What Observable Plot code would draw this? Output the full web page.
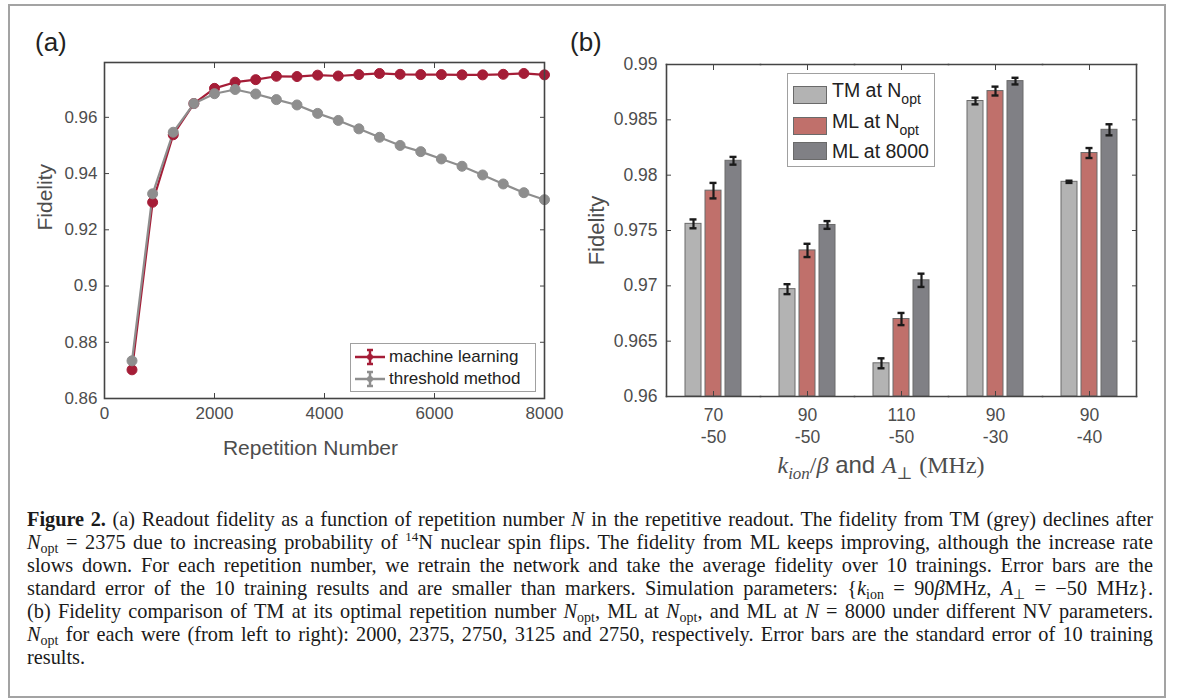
<!DOCTYPE html>
<html><head><meta charset="utf-8">
<script src="https://cdn.jsdelivr.net/npm/d3@7"></script>
<script src="https://cdn.jsdelivr.net/npm/@observablehq/plot@0.6"></script>
<style>
body{margin:0;background:#fff;}
#fig{position:relative;width:1182px;height:700px;overflow:hidden;font-family:"Liberation Sans",Arial,sans-serif;color:#4d4d4d;}
#outer{position:absolute;left:8px;top:4px;width:1158px;height:694px;border:2px solid #a3a3a3;box-sizing:border-box;}
.panel{position:absolute;top:0;}
.plabel{position:absolute;font-size:26px;color:#222;line-height:1;}
.legend{position:absolute;background:#fff;border:1.5px solid #a0a0a0;box-sizing:border-box;color:#222;}
.lrow{position:absolute;left:0;display:flex;align-items:center;white-space:nowrap;}
#xlabR{position:absolute;left:700px;width:362px;top:451px;text-align:center;font-size:24px;color:#4d4d4d;white-space:nowrap;}
.mi{font-family:"Liberation Serif","DejaVu Serif",serif;font-style:italic;}
.mr{font-family:"Liberation Serif","DejaVu Serif",serif;}
#caption{position:absolute;left:27px;top:508px;width:1126px;font-family:"Liberation Serif","Times New Roman",serif;font-size:20.3px;line-height:23px;color:#1a1a1a;}
#caption .ln{text-align:justify;text-align-last:justify;white-space:nowrap;}
#caption .last{text-align:left;text-align-last:left;}
#caption sub{font-size:14px;vertical-align:-4px;line-height:0;}
#caption sup{font-size:13px;vertical-align:8px;line-height:0;}
</style></head>
<body>
<div id="fig">
  <div id="outer"></div>
  <div id="left" class="panel" style="left:0px"></div>
  <div id="right" class="panel" style="left:570px"></div>
  <div class="plabel" style="left:35px;top:29px">(a)</div>
  <div class="plabel" style="left:570px;top:29px">(b)</div>
  <div id="legL" class="legend" style="left:350px;top:343px;width:186px;height:49px"></div>
  <div id="legR" class="legend" style="left:787px;top:73px;width:148px;height:94px"></div>
  <div id="xlabR"><span class="mi">k</span><sub class="mi" style="font-size:17px">ion</sub><span class="mr">/</span><span class="mi">β</span> and <span class="mi">A</span><sub class="mr" style="font-size:17px">⊥</sub> <span class="mr">(MHz)</span></div>
  <div id="caption">
    <div class="ln"><b>Figure 2.</b> (a) Readout fidelity as a function of repetition number <i>N</i> in the repetitive readout. The fidelity from TM (grey) declines after</div>
    <div class="ln"><i>N</i><sub>opt</sub> = 2375 due to increasing probability of <sup>14</sup>N nuclear spin flips. The fidelity from ML keeps improving, although the increase rate</div>
    <div class="ln">slows down. For each repetition number, we retrain the network and take the average fidelity over 10 trainings. Error bars are the</div>
    <div class="ln">standard error of the 10 training results and are smaller than markers. Simulation parameters: {<i>k</i><sub>ion</sub> = 90<i>β</i>MHz, <i>A</i><sub>⊥</sub> = −50 MHz}.</div>
    <div class="ln">(b) Fidelity comparison of TM at its optimal repetition number <i>N</i><sub>opt</sub>, ML at <i>N</i><sub>opt</sub>, and ML at <i>N</i> = 8000 under different NV parameters.</div>
    <div class="ln"><i>N</i><sub>opt</sub> for each were (from left to right): 2000, 2375, 2750, 3125 and 2750, respectively. Error bars are the standard error of 10 training</div>
    <div class="ln last">results.</div>
  </div>
</div>
<script>
// ---------- Panel (a) data ----------
const repetitions = [500, 875, 1250, 1625, 2000, 2375, 2750, 3125, 3500, 3875, 4250, 4625, 5000, 5375, 5750, 6125, 6500, 6875, 7250, 7625, 8000];
const fidelityML = [0.8702, 0.9298, 0.9538, 0.9649, 0.9703, 0.9725, 0.9734, 0.9746, 0.9745, 0.9750, 0.9747, 0.9752, 0.9756, 0.9753, 0.9752, 0.9752, 0.9751, 0.9751, 0.9753, 0.9756, 0.9751];
const fidelityTM = [0.8734, 0.9328, 0.9547, 0.9649, 0.9684, 0.9699, 0.9683, 0.9663, 0.9644, 0.9614, 0.9589, 0.9559, 0.9529, 0.9500, 0.9478, 0.9452, 0.9426, 0.9395, 0.9363, 0.9332, 0.9307];
const lineSeries = ["machine learning", "threshold method"];
const xTicksA = [0, 2000, 4000, 6000, 8000];
const yTicksA = [0.86, 0.88, 0.9, 0.92, 0.94, 0.96];

// ---------- Panel (b) data ----------
const kIon = [70, 90, 110, 90, 90];
const aPerp = [-50, -50, -50, -30, -40];
const barSeries = ["TM at Nopt", "ML at Nopt", "ML at 8000"];
const tmAtNopt = [0.9756, 0.9697, 0.9630, 0.9867, 0.9794];
const tmAtNoptErr = [0.0004, 0.00045, 0.00045, 0.0003, 0.0001];
const mlAtNopt = [0.9786, 0.9732, 0.9670, 0.9876, 0.9820];
const mlAtNoptErr = [0.0007, 0.0006, 0.00055, 0.0004, 0.00045];
const mlAt8000 = [0.9813, 0.9755, 0.9705, 0.9885, 0.9841];
const mlAt8000Err = [0.00035, 0.00035, 0.0006, 0.0003, 0.0005];
const yTicksB = [0.96, 0.965, 0.97, 0.975, 0.98, 0.985, 0.99];

// ---------- styles ----------
const axisColor = "#444444";
const textColor = "#4d4d4d";
const lineColors = ["#a51d37", "#8e8e8e"];
const barColors = ["#b3b3b3", "#c0706b", "#808085"];
const barStroke = "#6a6a6a";
const fontFam = "'Liberation Sans', Arial, sans-serif";

// ---------- Panel (a) ----------
const lineData = repetitions.flatMap((n, i) => [
  {N: n, F: fidelityML[i], s: lineSeries[0]},
  {N: n, F: fidelityTM[i], s: lineSeries[1]}
]);
const fmt = d => String(+d.toFixed(3));

const plotA = Plot.plot({
  width: 570, height: 480,
  marginLeft: 104, marginRight: 26, marginTop: 62, marginBottom: 82,
  style: {fontFamily: fontFam, fontSize: "17px", color: textColor, background: "transparent", overflow: "visible"},
  x: {domain: [0, 8000]},
  y: {domain: [0.86, 0.9795]},
  color: {domain: lineSeries, range: lineColors},
  marks: [
    Plot.line(lineData, {x: "N", y: "F", stroke: "s", strokeWidth: 2.2}),
    Plot.dot(lineData, {x: "N", y: "F", fill: "s", stroke: "s", r: 5, strokeWidth: 1}),
    Plot.frame({stroke: axisColor, strokeWidth: 1.6}),
    Plot.axisX(xTicksA, {anchor: "bottom", tickSize: -5, tickPadding: 13, tickFormat: d => String(d), label: null, stroke: axisColor}),
    Plot.axisX(xTicksA, {anchor: "top", tickSize: -5, text: null, label: null, stroke: axisColor}),
    Plot.axisY(yTicksA, {anchor: "left", tickSize: -5, tickPadding: 12, tickFormat: fmt, label: null, stroke: axisColor}),
    Plot.axisY(yTicksA, {anchor: "right", tickSize: -5, text: null, label: null, stroke: axisColor}),
    Plot.text(["Repetition Number"], {text: d => d, frameAnchor: "bottom", dy: 56, dx: -14, fontSize: 21, fill: textColor}),
    Plot.text(["Fidelity"], {text: d => d, frameAnchor: "left", rotate: -90, dx: -59, fontSize: 21, fill: textColor})
  ]
});
document.getElementById("left").appendChild(plotA);

// ---------- Panel (b) ----------
const groups = kIon.map((k, i) => `${k}\n${aPerp[i]}`);
const barData = groups.flatMap((g, i) => [
  {g, s: barSeries[0], v: tmAtNopt[i], e: tmAtNoptErr[i]},
  {g, s: barSeries[1], v: mlAtNopt[i], e: mlAtNoptErr[i]},
  {g, s: barSeries[2], v: mlAt8000[i], e: mlAt8000Err[i]}
]);
const yBase = yTicksB[0];

const plotB = Plot.plot({
  width: 600, height: 480,
  marginLeft: 94, marginRight: 33, marginTop: 64, marginBottom: 84,
  style: {fontFamily: fontFam, fontSize: "17.5px", color: textColor, background: "transparent", overflow: "visible"},
  fx: {domain: groups, padding: 0, label: null},
  x: {domain: barSeries, paddingInner: 0.19, paddingOuter: 0.85, axis: null},
  y: {domain: [yBase, yTicksB[yTicksB.length - 1]]},
  color: {domain: barSeries, range: barColors},
  marks: [
    Plot.barY(barData, {fx: "g", x: "s", y1: yBase, y2: "v", fill: "s", stroke: barStroke, strokeWidth: 1}),
    Plot.ruleX(barData, {fx: "g", x: "s", y1: d => d.v - d.e, y2: d => d.v + d.e, stroke: "#1a1a1a", strokeWidth: 2.2}),
    Plot.tickY(barData, {fx: "g", x: "s", y: d => d.v + d.e, insetLeft: 4.5, insetRight: 4.5, stroke: "#1a1a1a", strokeWidth: 2.4}),
    Plot.tickY(barData, {fx: "g", x: "s", y: d => d.v - d.e, insetLeft: 4.5, insetRight: 4.5, stroke: "#1a1a1a", strokeWidth: 2.4}),
    Plot.frame({anchor: "top", stroke: axisColor, strokeWidth: 1.6}),
    Plot.frame({anchor: "bottom", stroke: axisColor, strokeWidth: 1.6}),
    Plot.frame({anchor: "left", facetAnchor: "left", stroke: axisColor, strokeWidth: 1.6}),
    Plot.frame({anchor: "right", facetAnchor: "right", stroke: axisColor, strokeWidth: 1.6}),
    Plot.axisY(yTicksB, {anchor: "left", tickSize: -5, tickPadding: 14, tickFormat: fmt, label: null, stroke: axisColor}),
    Plot.axisY(yTicksB, {anchor: "right", tickSize: -5, text: null, label: null, stroke: axisColor}),
    Plot.axisY({anchor: "left", tickSize: 0, text: null, label: "Fidelity", labelAnchor: "center", labelArrow: "none", labelOffset: 78, fontSize: 22, fill: textColor}),
    Plot.axisFx({anchor: "bottom", tickSize: -5, tickPadding: 14, lineHeight: 1.25, label: null, stroke: axisColor}),
    Plot.axisFx({anchor: "top", tickSize: -5, text: null, label: null, stroke: axisColor})
  ]
});
document.getElementById("right").appendChild(plotB);

// ---------- Legends ----------
const legL = document.getElementById("legL");
lineSeries.forEach((name, i) => {
  const row = document.createElement("div");
  row.className = "lrow";
  row.style.top = (i === 0 ? 3 : 25) + "px";
  row.style.left = "3px";
  row.innerHTML = `<svg width="32" height="20" style="margin-right:3px">
      <line x1="1" x2="31" y1="10" y2="10" stroke="${lineColors[i]}" stroke-width="2.5"/>
      <line x1="16" x2="16" y1="3" y2="17" stroke="${lineColors[i]}" stroke-width="2.5"/>
      <line x1="13" x2="19" y1="3" y2="3" stroke="${lineColors[i]}" stroke-width="2.5"/>
      <line x1="13" x2="19" y1="17" y2="17" stroke="${lineColors[i]}" stroke-width="2.5"/>
      <circle cx="16" cy="10" r="3" fill="${lineColors[i]}"/></svg><span style="font-size:17px">${name}</span>`;
  legL.appendChild(row);
});
const legR = document.getElementById("legR");
const legTexts = ['TM at N<sub style="font-size:14px;vertical-align:-7px">opt</sub>', 'ML at N<sub style="font-size:14px;vertical-align:-7px">opt</sub>', 'ML at 8000'];
const legTops = [7, 38, 68];
barSeries.forEach((name, i) => {
  const row = document.createElement("div");
  row.className = "lrow";
  row.style.top = legTops[i] + "px";
  row.style.left = "5px";
  row.innerHTML = `<svg width="35" height="19" style="margin-right:4px"><rect x="0.5" y="0.5" width="33" height="17" fill="${barColors[i]}" stroke="${barStroke}"/></svg><span style="font-size:19.5px;line-height:19px">${legTexts[i]}</span>`;
  legR.appendChild(row);
});
</script>
</body></html>
